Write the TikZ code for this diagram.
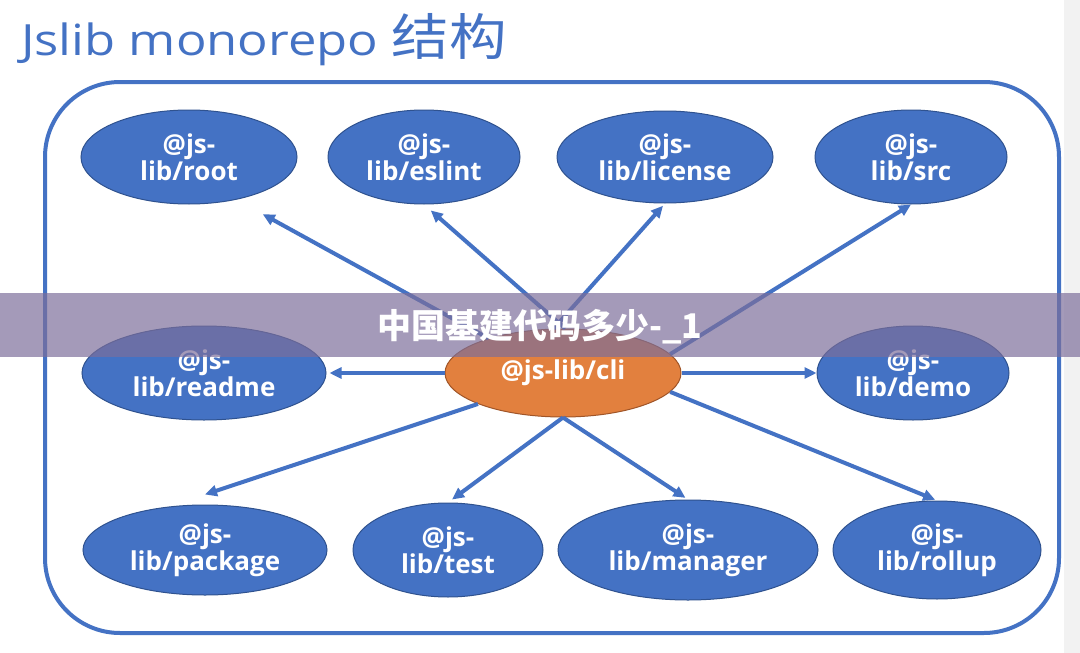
\documentclass[tikz,border=0pt]{standalone}
\usepackage{fontspec}
\setmainfont{Open Sans}
\newfontfamily\cjk{Noto Sans CJK SC}
\usetikzlibrary{arrows.meta,positioning,shapes.geometric}

\definecolor{pkgblue}{RGB}{68,114,196}
\definecolor{pkgedge}{RGB}{47,82,143}
\definecolor{cliorange}{RGB}{226,128,62}
\definecolor{cliedge}{RGB}{160,85,40}
\definecolor{veil}{RGB}{124,110,154}

\begin{document}
\begin{tikzpicture}[x=1pt,y=-1pt,>={Triangle[length=12pt,width=11pt]},
  pkg/.style={ellipse,draw=pkgedge,line width=1pt,fill=pkgblue,text=white,
    inner sep=0pt,align=center,font=\fontsize{26}{25}\selectfont\bfseries},
  core/.style={pkg,fill=cliorange,draw=cliedge},
  link/.style={pkgblue,line width=4pt}]

  \useasboundingbox (0,0) rectangle (1080,653);
  \fill[white] (0,0) rectangle (1080,653);
  \fill[black!5] (1064,0) rectangle (1080,653);

  \node[anchor=base west,text=pkgblue,inner sep=0pt,
    font=\addfontfeatures{FakeStretch=1.18}\fontsize{43}{43}\selectfont]
    (title) at (21,55) {Jslib monorepo {\cjk\addfontfeatures{FakeStretch=1.15}\fontsize{50}{50}\selectfont 结构}};

  \draw[pkgblue,line width=4pt,rounded corners=75pt] (45,82) rectangle (1059,633);

  % top row
  \node[pkg,minimum width=216pt,minimum height=94pt] (root) at (189,157) {@js-\\lib/root};
  \node[pkg,minimum width=192pt,minimum height=94pt] (eslint)  [right=30pt of root]    {@js-\\lib/eslint};
  \node[pkg,minimum width=216pt,minimum height=92pt] (license) [right=36pt of eslint]  {@js-\\lib/license};
  \node[pkg,minimum width=192pt,minimum height=94pt] (src)     [right=41pt of license] {@js-\\lib/src};

  % middle row
  \node[core,minimum width=236pt,minimum height=88pt] (cli) at (563,373) {@js-lib/cli};
  \node[pkg,minimum width=244pt,minimum height=94pt] (readme) [left=118pt of cli]  {@js-\\lib/readme};
  \node[pkg,minimum width=192pt,minimum height=94pt] (demo)   [right=135pt of cli] {@js-\\lib/demo};

  % bottom row
  \node[pkg,minimum width=244pt,minimum height=90pt] (package) at (205,550) {@js-\\lib/package};
  \node[pkg,minimum width=190pt,minimum height=94pt]  (test)    [right=25pt of package] {@js-\\lib/test};
  \node[pkg,minimum width=260pt,minimum height=100pt] (manager) [right=14pt of test]    {@js-\\lib/manager};
  \node[pkg,minimum width=208pt,minimum height=98pt]  (rollup)  [right=14pt of manager] {@js-\\lib/rollup};

  \path[->,link]
  (cli.155)   edge[shorten >=30pt] (root.-42)
  (cli.87)    edge[shorten >=9pt]  (eslint.south)
  (cli.102)   edge[shorten >=3pt]  (license.south)
  (cli.10)    edge                 (src.south)
  (cli.west)  edge[shorten >=3pt]  (readme.east)
  (cli.east)  edge                 (demo.west)
  (cli.200)   edge                 ([yshift=10pt]package.north)
  (cli.south) edge[shorten >=5pt]  (test.north)
              edge[shorten >=3pt]  (manager.north)
  (cli.-10)   edge[shorten >=2pt]  (rollup.north);

  % overlay band
  \fill[veil,opacity=0.69] (0,293) rectangle (1080,357);
  \node[text=white,inner sep=0pt,font=\cjk\bfseries\fontsize{34}{34}\selectfont]
    (band) at (540,327) {中国基建代码多少-\_1};

\end{tikzpicture}
\end{document}
